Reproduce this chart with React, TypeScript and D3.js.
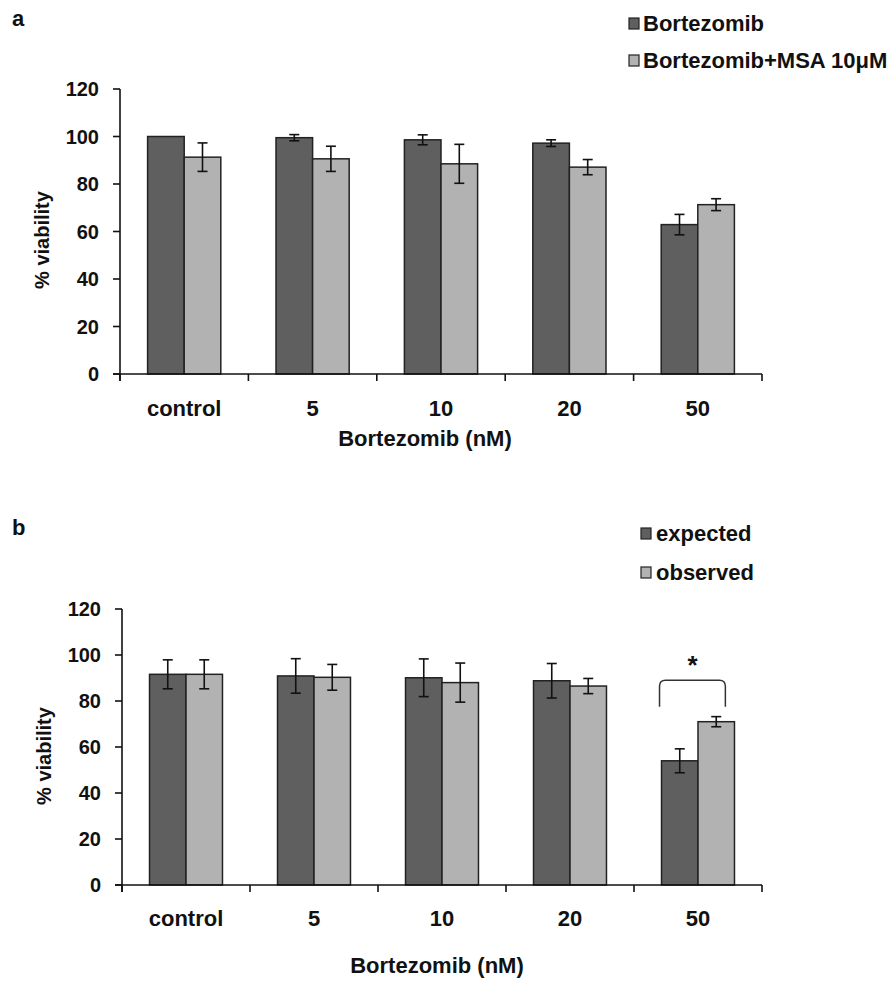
import React from "react";
import * as d3 from "d3";

const categories = ["control", "5", "10", "20", "50"];
const yTicks = [0, 20, 40, 60, 80, 100, 120];

// Panel a
const seriesANames = ["Bortezomib", "Bortezomib+MSA 10μM"];
const bortezomibMean = [100, 99.5, 98.6, 97.2, 62.9];
const bortezomibErr = [0, 1.3, 2.1, 1.4, 4.3];
const comboMean = [91.3, 90.6, 88.5, 87.1, 71.3];
const comboErr = [6.0, 5.3, 8.2, 3.2, 2.5];

// Panel b
const seriesBNames = ["expected", "observed"];
const expectedMean = [91.6, 90.9, 90.1, 88.8, 54.0];
const expectedErr = [6.3, 7.5, 8.2, 7.5, 5.2];
const observedMean = [91.6, 90.3, 88.0, 86.5, 71.0];
const observedErr = [6.3, 5.6, 8.5, 3.3, 2.2];

// significance bracket (panel b, category "50")
const sigCategory = "50";
const sigBracketTop = 89;
const sigBracketBottom = 77.5;
const sigLabel = "*";

const COLORS = ["#5f5f5f", "#b2b2b2"];
const FONT = "'Liberation Sans', Arial, Helvetica, sans-serif";

type PanelProps = {
  letter: string;
  letterY: number;
  names: string[];
  means: number[][];
  errs: number[][];
  x0: number;
  x1: number;
  yTopPx: number;
  yBottomPx: number;
  catLabelY: number;
  titleX: number;
  titleY: number;
  yTitleX: number;
  yTitleY: number;
  legendX: number;
  legendTextX: number;
  legendY: number[];
  sig?: boolean;
};

function Panel(p: PanelProps) {
  const x = d3.scaleBand<string>().domain(categories).range([p.x0, p.x1]).padding(0);
  const groupW = x.bandwidth() * 0.57;
  const xs = d3.scaleBand<string>().domain(p.names).range([0, groupW]).padding(0);
  const y = d3.scaleLinear().domain([0, 120]).range([p.yBottomPx, p.yTopPx]);
  const tickLen = 7;
  const bounds = [...categories.map((c) => x(c) as number), p.x1];

  let bracket: React.ReactNode = null;
  if (p.sig) {
    const gx = (x(sigCategory) as number) + (x.bandwidth() - groupW) / 2;
    const left = gx - 2;
    const right = gx + xs.bandwidth() * 1.75;
    const top = y(sigBracketTop);
    const bot = y(sigBracketBottom);
    const r = 6;
    const d = `M${left},${bot} L${left},${top + r} Q${left},${top} ${left + r},${top} L${right - r},${top} Q${right},${top} ${right},${top + r} L${right},${bot}`;
    bracket = (
      <g>
        <path d={d} fill="none" stroke="#333" strokeWidth={1.5} />
        <text x={(left + right) / 2} y={top - 6} textAnchor="middle" fontSize={26} fontWeight="bold" fontFamily={FONT} fill="#111">
          {sigLabel}
        </text>
      </g>
    );
  }

  return (
    <g>
      <text x={12} y={p.letterY} fontSize={22} fontWeight="bold" fontFamily={FONT} fill="#111">
        {p.letter}
      </text>
      {/* legend */}
      {p.names.map((n, i) => (
        <g key={n}>
          <rect x={p.legendX} y={p.legendY[i] - 13} width={10} height={11} fill={COLORS[i]} stroke="#222" strokeWidth={1.2} />
          <text x={p.legendTextX} y={p.legendY[i]} fontSize={22} fontWeight="bold" fontFamily={FONT} fill="#111">
            {n}
          </text>
        </g>
      ))}
      {/* bars */}
      {categories.map((c, ci) => {
        const gx = (x(c) as number) + (x.bandwidth() - groupW) / 2;
        return (
          <g key={c}>
            {p.names.map((n, si) => {
              const v = p.means[si][ci];
              const bx = gx + (xs(n) as number);
              return (
                <rect key={n} x={bx} y={y(v)} width={xs.bandwidth()} height={y(0) - y(v)} fill={COLORS[si]} stroke="#222" strokeWidth={1.5} />
              );
            })}
            {p.names.map((n, si) => {
              const v = p.means[si][ci];
              const e = p.errs[si][ci];
              if (!e) return null;
              const cx = gx + (xs(n) as number) + xs.bandwidth() / 2;
              const cw = 5;
              return (
                <g key={"e" + n} stroke="#111" strokeWidth={1.6}>
                  <line x1={cx} x2={cx} y1={y(v + e)} y2={y(v - e)} />
                  <line x1={cx - cw} x2={cx + cw} y1={y(v + e)} y2={y(v + e)} />
                  <line x1={cx - cw} x2={cx + cw} y1={y(v - e)} y2={y(v - e)} />
                </g>
              );
            })}
          </g>
        );
      })}
      {bracket}
      {/* axes */}
      <g stroke="#111" strokeWidth={1.6} fill="none">
        <line x1={p.x0} x2={p.x0} y1={y(120)} y2={y(0) + tickLen} />
        <line x1={p.x0 - tickLen} x2={p.x1} y1={y(0)} y2={y(0)} />
        {yTicks.map((t) => (
          <line key={t} x1={p.x0 - tickLen} x2={p.x0} y1={y(t)} y2={y(t)} />
        ))}
        {bounds.map((b, i) => (
          <line key={i} x1={b} x2={b} y1={y(0)} y2={y(0) + tickLen} />
        ))}
      </g>
      {yTicks.map((t) => (
        <text key={t} x={p.x0 - 21} y={y(t)} dy="0.36em" textAnchor="end" fontSize={20} fontWeight="bold" fontFamily={FONT} fill="#111">
          {t}
        </text>
      ))}
      {categories.map((c) => (
        <text key={c} x={(x(c) as number) + x.bandwidth() / 2} y={p.catLabelY} textAnchor="middle" fontSize={22} fontWeight="bold" fontFamily={FONT} fill="#111">
          {c}
        </text>
      ))}
      <text x={p.titleX} y={p.titleY} textAnchor="middle" fontSize={22} fontWeight="bold" fontFamily={FONT} fill="#111">
        Bortezomib (nM)
      </text>
      <text transform={`translate(${p.yTitleX},${p.yTitleY}) rotate(-90)`} textAnchor="middle" fontSize={20} fontWeight="bold" fontFamily={FONT} fill="#111">
        % viability
      </text>
    </g>
  );
}

export default function App() {
  return (
    <svg width={894} height={981} style={{ position: "absolute", left: 0, top: 0, background: "#fff" }}>
      <rect width={894} height={981} fill="#fff" />
      <Panel
        letter="a"
        letterY={26}
        names={seriesANames}
        means={[bortezomibMean, comboMean]}
        errs={[bortezomibErr, comboErr]}
        x0={120}
        x1={762}
        yTopPx={89}
        yBottomPx={374}
        catLabelY={416}
        titleX={425}
        titleY={446}
        yTitleX={49}
        yTitleY={240}
        legendX={629}
        legendTextX={643}
        legendY={[31, 68]}
      />
      <Panel
        letter="b"
        letterY={535}
        names={seriesBNames}
        means={[expectedMean, observedMean]}
        errs={[expectedErr, observedErr]}
        x0={122}
        x1={762}
        yTopPx={609}
        yBottomPx={885}
        catLabelY={926}
        titleX={437}
        titleY={973}
        yTitleX={51}
        yTitleY={756}
        legendX={641}
        legendTextX={656}
        legendY={[541, 580]}
        sig
      />
    </svg>
  );
}
